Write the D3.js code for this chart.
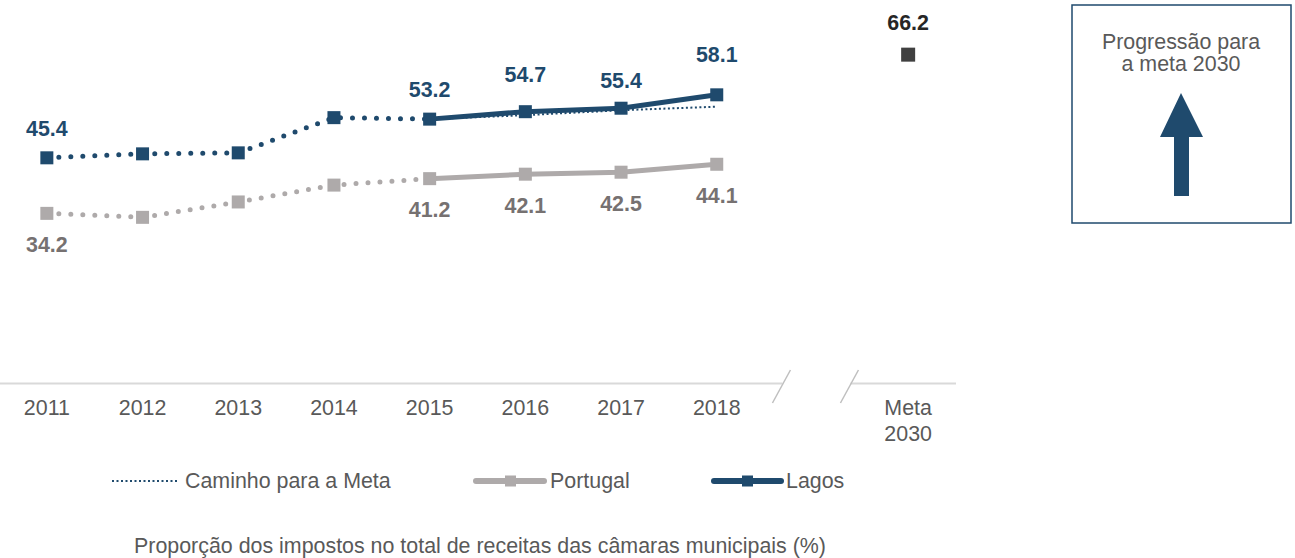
<!DOCTYPE html>
<html>
<head>
<meta charset="utf-8">
<script src="https://cdn.jsdelivr.net/npm/d3@7"></script>
<style>
body { margin: 0; background: #fff; }
text { font-family: "Liberation Sans", Arial, sans-serif; }
</style>
</head>
<body>
<div id="chart"></div>
<script>
// data
var years = ["2011", "2012", "2013", "2014", "2015", "2016", "2017", "2018"];
var lagos = [45.4, 46.2, 46.4, 53.5, 53.2, 54.7, 55.4, 58.1];
var portugal = [34.2, 33.4, 36.5, 39.9, 41.2, 42.1, 42.5, 44.1];
var caminhoYears = ["2015", "2016", "2017", "2018"];
var caminho = [53.2, 54.0, 55.0, 55.7];
var metaCat = "Meta 2030";
var metaValue = 66.2;
var labelled = [0, 4, 5, 6, 7];
var legendNames = ["Caminho para a Meta", "Portugal", "Lagos"];
var titleText = "Proporção dos impostos no total de receitas das câmaras municipais (%)";
var boxLines = ["Progressão para", "a meta 2030"];

var w = 1295;
var h = 558;
var fs = 21.4;
var blue = "#1f4a6d";
var grey = "#aeaaaa";
var greyText = "#767171";
var axisText = "#595959";

var svg = d3.select("#chart")
  .append("svg")
  .attr("width", w)
  .attr("height", h);

var x = d3.scaleBand()
  .domain(years.concat(["gap", metaCat]))
  .range([-1, 956]);
var cx = function(c) { return x(c) + x.bandwidth() / 2; };

var y = d3.scaleLinear()
  .domain([0, 70])
  .range([383, 383 - 70 * 4.96]);

// axis with break
var axis = svg.append("g")
  .attr("transform", "translate(0,383)")
  .call(d3.axisBottom(x).tickSize(0).tickPadding(17)
    .tickFormat(function(d) { return d == "gap" ? "" : d; }));
axis.select(".domain").remove();
axis.selectAll("text")
  .attr("font-size", fs)
  .attr("fill", axisText)
  .style("font-family", "'Liberation Sans', Arial, sans-serif");
axis.selectAll(".tick text")
  .filter(function(d) { return d == metaCat; })
  .each(function(d) {
    var t = d3.select(this).text("");
    var parts = d.split(" ");
    parts.forEach(function(p, i) {
      t.append("tspan").attr("x", 0).attr("dy", i == 0 ? "0.71em" : "1.2em").text(p);
    });
  });

var gx = cx("gap");
svg.append("line").attr("x1", 0).attr("x2", gx - 30).attr("y1", 383.5).attr("y2", 383.5)
  .attr("stroke", "#d9d9d9").attr("stroke-width", 2);
svg.append("line").attr("x1", gx + 38).attr("x2", 956).attr("y1", 383.5).attr("y2", 383.5)
  .attr("stroke", "#d9d9d9").attr("stroke-width", 2);
[gx - 31, gx + 37].forEach(function(sx) {
  svg.append("line")
    .attr("x1", sx + 9).attr("y1", 370)
    .attr("x2", sx - 9).attr("y2", 403)
    .attr("stroke", "#bfbfbf").attr("stroke-width", 1.5);
});

var line = d3.line()
  .x(function(d) { return cx(d.c); })
  .y(function(d) { return y(d.v); });

function pts(cats, vals) {
  return cats.map(function(c, i) { return { c: c, v: vals[i] }; });
}
var lagosPts = pts(years, lagos);
var portPts = pts(years, portugal);

// path to the goal
svg.append("path")
  .attr("d", line(pts(caminhoYears, caminho)))
  .attr("fill", "none")
  .attr("stroke", blue)
  .attr("stroke-width", 2)
  .attr("stroke-dasharray", "2 2.5");

function drawSeries(p, color) {
  svg.append("path")
    .attr("d", line(p.slice(0, 5)))
    .attr("fill", "none")
    .attr("stroke", color)
    .attr("stroke-width", 5)
    .attr("stroke-linecap", "round")
    .attr("stroke-dasharray", "0 12");
  svg.append("path")
    .attr("d", line(p.slice(4)))
    .attr("fill", "none")
    .attr("stroke", color)
    .attr("stroke-width", 5);
  svg.append("g").selectAll("rect")
    .data(p)
    .enter()
    .append("rect")
    .attr("x", function(d) { return cx(d.c) - 6.5; })
    .attr("y", function(d) { return y(d.v) - 6.5; })
    .attr("width", 13)
    .attr("height", 13)
    .attr("fill", color);
}
drawSeries(portPts, grey);
drawSeries(lagosPts, blue);

// value labels
var lagosDy = [-29, 0, 0, 0, -30, -37, -28, -40];
svg.append("g").selectAll("text")
  .data(labelled)
  .enter()
  .append("text")
  .attr("x", function(i) { return cx(years[i]); })
  .attr("y", function(i) { return y(lagos[i]) + lagosDy[i]; })
  .attr("dy", "0.35em")
  .attr("text-anchor", "middle")
  .attr("font-size", fs)
  .attr("font-weight", "bold")
  .attr("fill", blue)
  .text(function(i) { return lagos[i].toFixed(1); });

svg.append("g").selectAll("text")
  .data(labelled)
  .enter()
  .append("text")
  .attr("x", function(i) { return cx(years[i]); })
  .attr("y", function(i) { return y(portugal[i]) + 31; })
  .attr("dy", "0.35em")
  .attr("text-anchor", "middle")
  .attr("font-size", fs)
  .attr("font-weight", "bold")
  .attr("fill", greyText)
  .text(function(i) { return portugal[i].toFixed(1); });

// goal point
svg.append("rect")
  .attr("x", cx(metaCat) - 7)
  .attr("y", y(metaValue) - 7)
  .attr("width", 14)
  .attr("height", 14)
  .attr("fill", "#404040");
svg.append("text")
  .attr("x", cx(metaCat))
  .attr("y", y(metaValue) - 32)
  .attr("dy", "0.35em")
  .attr("text-anchor", "middle")
  .attr("font-size", fs)
  .attr("font-weight", "bold")
  .attr("fill", "#262626")
  .text(metaValue.toFixed(1));

// legend
var ly = 481;
var leg = svg.append("g");
leg.append("line").attr("x1", 112).attr("x2", 177).attr("y1", ly).attr("y2", ly)
  .attr("stroke", blue).attr("stroke-width", 2).attr("stroke-dasharray", "2 2.5");
leg.append("line").attr("x1", 476).attr("x2", 544).attr("y1", ly).attr("y2", ly)
  .attr("stroke", grey).attr("stroke-width", 6).attr("stroke-linecap", "round");
leg.append("rect").attr("x", 505).attr("y", ly - 5.5).attr("width", 11).attr("height", 11).attr("fill", grey);
leg.append("line").attr("x1", 714).attr("x2", 781).attr("y1", ly).attr("y2", ly)
  .attr("stroke", blue).attr("stroke-width", 6).attr("stroke-linecap", "round");
leg.append("rect").attr("x", 742).attr("y", ly - 5.5).attr("width", 11).attr("height", 11).attr("fill", blue);
var legX = [185, 550, 786];
leg.selectAll("text")
  .data(legendNames)
  .enter()
  .append("text")
  .attr("x", function(d, i) { return legX[i]; })
  .attr("y", ly)
  .attr("dy", "0.35em")
  .attr("font-size", fs)
  .attr("fill", axisText)
  .text(function(d) { return d; });

// title
svg.append("text")
  .attr("x", 480)
  .attr("y", 546)
  .attr("dy", "0.35em")
  .attr("text-anchor", "middle")
  .attr("font-size", fs)
  .attr("fill", axisText)
  .text(titleText);

// progress box
svg.append("rect")
  .attr("x", 1072).attr("y", 5)
  .attr("width", 219).attr("height", 218)
  .attr("fill", "none")
  .attr("stroke", blue)
  .attr("stroke-width", 1.5);
svg.append("g").selectAll("text")
  .data(boxLines)
  .enter()
  .append("text")
  .attr("x", 1181)
  .attr("y", function(d, i) { return 42 + i * 22; })
  .attr("dy", "0.35em")
  .attr("text-anchor", "middle")
  .attr("font-size", fs)
  .attr("fill", axisText)
  .text(function(d) { return d; });
svg.append("path")
  .attr("d", "M1181,93 L1203,137 L1189,137 L1189,196 L1174,196 L1174,137 L1160,137 Z")
  .attr("fill", blue);
</script>
</body>
</html>
